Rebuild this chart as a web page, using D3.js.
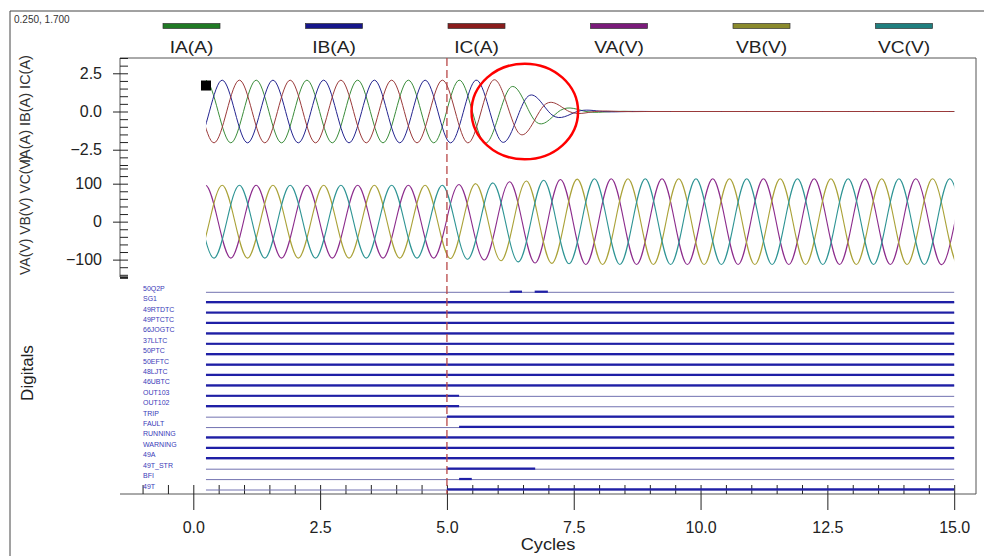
<!DOCTYPE html>
<html>
<head>
<meta charset="utf-8">
<script src="https://cdn.jsdelivr.net/npm/d3@7"></script>
<style>
  body { margin: 0; background: #fff; }
  svg text { font-family: Arial, "Liberation Sans", sans-serif; }
</style>
</head>
<body>
<svg id="chart" width="984" height="556"></svg>
<script>
// ---- values ----
const cycleStart = 0.25, cycleEnd = 15.0;
const tripCycle = 5.0;
const cursor = [0.25, 1.7];
const xMajorTicks = [0, 2.5, 5, 7.5, 10, 12.5, 15];
const currentTicks = [-2.5, 0, 2.5];
const voltageTicks = [-100, 0, 100];

const currentNames = ["IA(A)", "IB(A)", "IC(A)"];
const voltageNames = ["VA(V)", "VB(V)", "VC(V)"];
const legendColors = ["#1f7a24", "#16168a", "#8a1c1c", "#7a1a7a", "#8a8a2c", "#1f7f7f"];
const lineColors = ["#3a8c3a", "#24248f", "#9a3a3a", "#8c2c8c", "#aaa238", "#2e9494"];

// first listed peak of each phase (cycles); peaks follow each half cycle, + first
const phaseStart = [-1.76, -1.43, -1.09];

// peak magnitude of every half cycle
const iaPeaks = [2.05, 2.05, 2.05, 2.05, 2.05, 2.05, 2.05, 2.05, 2.05, 2.05, 2.05, 2.05, 2.05, 2.05, 2.05, 2.05,
                 1.54, 0.62, 0.08, 0, 0, 0, 0, 0, 0, 0, 0, 0, 0, 0, 0, 0, 0, 0, 0, 0];
const ibPeaks = [2.05, 2.05, 2.05, 2.05, 2.05, 2.05, 2.05, 2.05, 2.05, 2.05, 2.05, 2.05, 2.05, 2.05, 2.05,
                 1.96, 0.90, 0.22, 0, 0, 0, 0, 0, 0, 0, 0, 0, 0, 0, 0, 0, 0, 0, 0, 0, 0];
const icPeaks = [2.05, 2.05, 2.05, 2.05, 2.05, 2.05, 2.05, 2.05, 2.05, 2.05, 2.05, 2.05, 2.05, 2.05, 2.05,
                 1.39, 0.38, 0, 0, 0, 0, 0, 0, 0, 0, 0, 0, 0, 0, 0, 0, 0, 0, 0, 0, 0];
const vaPeaks = [96, 96, 96, 96, 96, 96, 96, 96, 96, 96, 96, 96, 96, 96, 98, 101, 105, 109, 111,
                 113, 113, 113, 113, 113, 113, 113, 113, 113, 113, 113, 113, 113, 113, 113, 113, 113];
const vbPeaks = [96, 96, 96, 96, 96, 96, 96, 96, 96, 96, 96, 96, 96, 97, 100, 103, 107, 110, 112,
                 113, 113, 113, 113, 113, 113, 113, 113, 113, 113, 113, 113, 113, 113, 113, 113, 113];
const vcPeaks = [96, 96, 96, 96, 96, 96, 96, 96, 96, 96, 96, 96, 96, 99, 102, 106, 109, 111,
                 113, 113, 113, 113, 113, 113, 113, 113, 113, 113, 113, 113, 113, 113, 113, 113, 113, 113];

// digital channels and the spans (cycles) where each one is asserted
const digitalNames = ["50Q2P", "SG1", "49RTDTC", "49PTCTC", "66JOGTC", "37LLTC", "50PTC", "50EFTC",
  "48LJTC", "46UBTC", "OUT103", "OUT102", "TRIP", "FAULT", "RUNNING", "WARNING", "49A", "49T_STR", "BFI", "49T"];
const digitalOn = [
  [[6.24, 6.48], [6.73, 6.99]],
  [[0.25, 15]], [[0.25, 15]], [[0.25, 15]], [[0.25, 15]], [[0.25, 15]],
  [[0.25, 15]], [[0.25, 15]], [[0.25, 15]], [[0.25, 15]],
  [[0.25, 5.24]], [[0.25, 5.24]],
  [[5.0, 15]], [[5.24, 15]],
  [[0.25, 15]], [[0.25, 15]], [[0.25, 15]],
  [[5.0, 6.74]], [[5.24, 5.49]], [[5.0, 15]]
];

// highlighted area: centre (cycles, A) and radii
const highlight = [6.535, 0, 1.05, 3.13];

// ---- drawing ----
const svg = d3.select("#chart");
const plot = { left: 120, right: 976, top: 58, bottom: 494 };

const x = d3.scaleLinear().domain([-1.445, 15.43]).range([plot.left, plot.right]);
const yI = d3.scaleLinear().domain([-3.5, 3.5]).range([165, plot.top]);
const yV = d3.scaleLinear().domain([-150, 150]).range([278.6, 164.7]);
const yD = d3.scalePoint().domain(digitalNames).range([292.3, 490]);

// frames
svg.append("path").attr("d", "M10,556V11H984").attr("fill", "none").attr("stroke", "#444");
svg.append("path")
  .attr("d", `M${plot.left},277V${plot.top}H${plot.right}V${plot.bottom}H${plot.left}`)
  .attr("fill", "none").attr("stroke", "#555");

// cursor readout
svg.append("text").attr("x", 14).attr("y", 23).attr("font-size", 10).attr("fill", "#333")
  .text(d3.format(".3f")(cursor[0]) + ", " + d3.format(".3f")(cursor[1]));

// legend
const legendNames = currentNames.concat(voltageNames);
const lx = d3.scalePoint().domain(legendNames).range([191.5, 904]);
const leg = svg.append("g").selectAll("g").data(legendNames).join("g")
  .attr("transform", d => `translate(${lx(d)},0)`);
leg.append("rect").attr("x", -28.5).attr("y", 23.5).attr("width", 57).attr("height", 5)
  .attr("fill", (d, i) => legendColors[i]).attr("stroke", "#333").attr("stroke-width", 0.7);
leg.append("text").attr("transform", "translate(0,53) scale(1.2,1)")
  .attr("text-anchor", "middle").attr("font-size", 16).attr("fill", "#222").text(d => d);

// y axes
function styleAxis(g) {
  g.select(".domain").remove();
  g.selectAll("line").attr("stroke", "#222");
  g.selectAll("text").attr("fill", "#222").attr("font-size", 16);
}
const iMinor = d3.range(-3.5, 3.51, 0.5);
const vMinor = d3.range(-140, 141, 20);
svg.append("g").attr("transform", `translate(${plot.left},0)`)
  .call(d3.axisRight(yI).tickValues(iMinor).tickSize(8).tickFormat("")).call(styleAxis);
svg.append("g").attr("transform", `translate(${plot.left},0)`)
  .call(d3.axisRight(yV).tickValues(vMinor).tickSize(8).tickFormat("")).call(styleAxis);
svg.append("g").attr("transform", `translate(${plot.left},0)`)
  .call(d3.axisLeft(yI).tickValues(currentTicks).tickSize(7).tickPadding(11).tickFormat(d3.format(".1f")))
  .call(styleAxis);
svg.append("g").attr("transform", `translate(${plot.left},0)`)
  .call(d3.axisLeft(yV).tickValues(voltageTicks).tickSize(7).tickPadding(11).tickFormat(d3.format("d")))
  .call(styleAxis);
svg.append("line").attr("x1", plot.left).attr("x2", plot.left + 8)
  .attr("y1", yV(-150) - 1).attr("y2", yV(-150) - 1).attr("stroke", "#222").attr("stroke-width", 2.5);

// x axis
svg.append("g").attr("transform", `translate(0,${plot.bottom})`)
  .call(d3.axisTop(x).tickValues(d3.range(-1, 15.01, 0.5)).tickSize(9).tickFormat(""))
  .call(styleAxis);
svg.append("g").attr("transform", `translate(0,${plot.bottom})`)
  .call(d3.axisBottom(x).tickValues(xMajorTicks).tickSize(16).tickPadding(12).tickFormat(d3.format(".1f")))
  .call(styleAxis);
svg.append("text").attr("transform", `translate(${(plot.left + plot.right) / 2},550) scale(1.14,1)`)
  .attr("text-anchor", "middle").attr("font-size", 16).attr("fill", "#222").text("Cycles");

// axis titles (the two analog titles overlap, as on the recorder)
svg.append("text").attr("transform", "translate(30,163) rotate(-90)")
  .attr("font-size", 14.5).attr("fill", "#333").text(currentNames.join(" "));
svg.append("text").attr("transform", "translate(30,275) rotate(-90)")
  .attr("font-size", 14).attr("fill", "#333").text(voltageNames.join(" "));
svg.append("text").attr("transform", "translate(33,373) rotate(-90)").attr("text-anchor", "middle")
  .attr("font-size", 17).attr("fill", "#222").text("Digitals");

// analog traces
svg.append("clipPath").attr("id", "trace-clip").append("rect")
  .attr("x", x(cycleStart)).attr("y", 0)
  .attr("width", x(cycleEnd) - x(cycleStart)).attr("height", 556);

function peakPoints(t0, mags) {
  return mags.map((m, k) => [t0 + k * 0.5, k % 2 ? -m : m]);
}
const traces = svg.append("g").attr("clip-path", "url(#trace-clip)");
const currents = [iaPeaks, ibPeaks, icPeaks];
const voltages = [vaPeaks, vbPeaks, vcPeaks];
voltages.forEach((mags, i) => {
  traces.append("path").datum(peakPoints(phaseStart[i], mags))
    .attr("fill", "none").attr("stroke", lineColors[3 + i]).attr("stroke-width", 1.1)
    .attr("d", d3.line().x(d => x(d[0])).y(d => yV(d[1])).curve(d3.curveNatural));
});
currents.forEach((mags, i) => {
  traces.append("path").datum(peakPoints(phaseStart[i], mags))
    .attr("fill", "none").attr("stroke", lineColors[i]).attr("stroke-width", 1)
    .attr("d", d3.line().x(d => x(d[0])).y(d => yI(d[1])).curve(d3.curveNatural));
});

// digital traces
const dg = svg.append("g");
dg.selectAll("text").data(digitalNames).join("text")
  .attr("x", 143).attr("y", d => yD(d) - 1.5).attr("font-size", 7).attr("fill", "#3a3ab8").text(d => d);
dg.selectAll("line.off").data(digitalNames).join("line").attr("class", "off")
  .attr("x1", x(cycleStart)).attr("x2", x(cycleEnd))
  .attr("y1", d => yD(d)).attr("y2", d => yD(d))
  .attr("stroke", "#7272b0").attr("stroke-width", 1);
digitalOn.forEach((spans, i) => {
  const yy = yD(digitalNames[i]) - 0.6;
  dg.selectAll(null).data(spans).join("line")
    .attr("x1", d => x(d[0])).attr("x2", d => x(d[1]))
    .attr("y1", yy).attr("y2", yy)
    .attr("stroke", "#1f1fa6").attr("stroke-width", 2.2);
});

// trip marker
svg.append("line").attr("x1", x(tripCycle)).attr("x2", x(tripCycle))
  .attr("y1", plot.top).attr("y2", plot.bottom)
  .attr("stroke", "#b84848").attr("stroke-width", 1.3).attr("stroke-dasharray", "8,4");

// cursor box
svg.append("rect").attr("x", x(cursor[0]) - 5).attr("y", yI(cursor[1]) - 5)
  .attr("width", 10).attr("height", 10).attr("fill", "#000");

// highlight ring
svg.append("ellipse")
  .attr("cx", x(highlight[0])).attr("cy", yI(highlight[1]))
  .attr("rx", x(highlight[0] + highlight[2]) - x(highlight[0]))
  .attr("ry", yI(highlight[1]) - yI(highlight[1] + highlight[3]))
  .attr("fill", "none").attr("stroke", "#ff0000").attr("stroke-width", 2.5);
</script>
</body>
</html>
